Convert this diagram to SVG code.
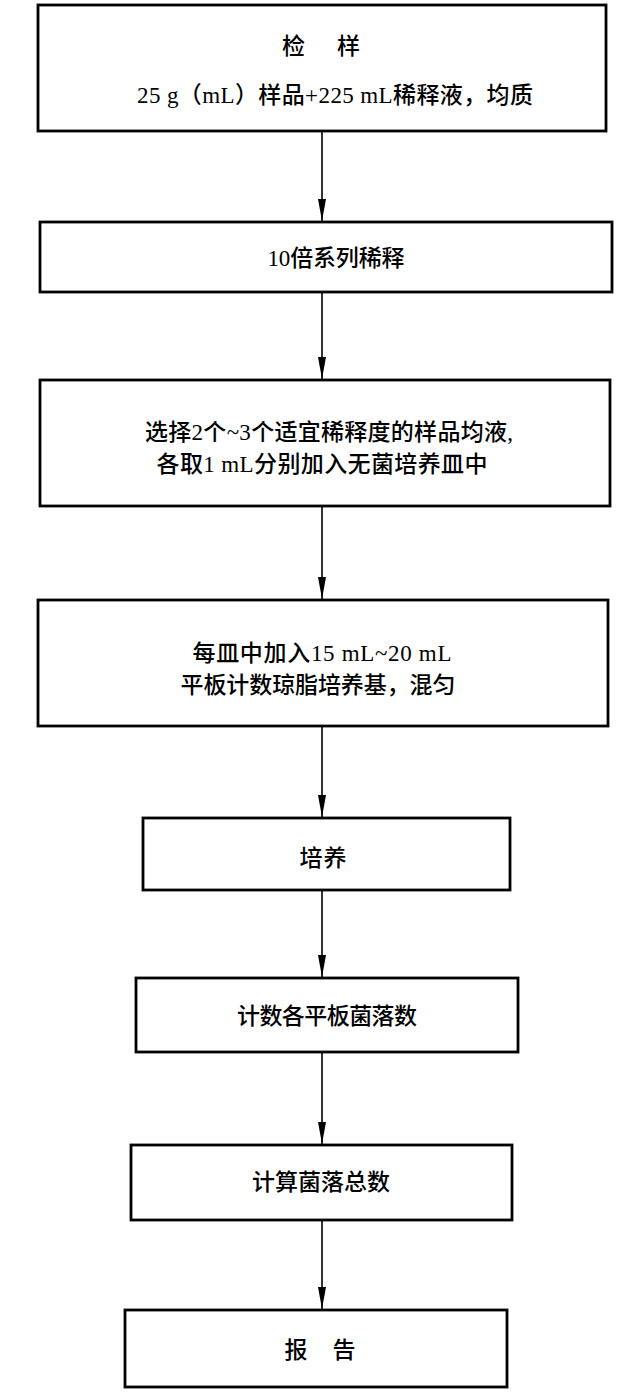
<svg xmlns="http://www.w3.org/2000/svg" width="640" height="1392" viewBox="0 0 640 1392">
<style>
.box{fill:#fff;stroke:#000;stroke-width:2.8}
.t{font-family:"Liberation Serif","Noto Sans CJK SC",serif;font-size:23px;font-weight:500;fill:#000;text-anchor:middle}
.c{stroke:#000;stroke-width:1.6;fill:none;marker-end:url(#ah)}
</style>
<defs>
<marker id="ah" markerUnits="userSpaceOnUse" markerWidth="22" markerHeight="10" refX="22" refY="5" orient="auto" viewBox="0 0 22 10">
<path d="M0,1 L22,5 L0,9 Z" fill="#000"/>
</marker>
</defs>
<rect width="640" height="1392" fill="#fff"/>
<g id="connectors">
<line class="c" x1="322" y1="132" x2="322" y2="221"/>
<line class="c" x1="322" y1="293" x2="322" y2="379"/>
<line class="c" x1="322" y1="507" x2="322" y2="599"/>
<line class="c" x1="322" y1="727" x2="322" y2="817"/>
<line class="c" x1="322" y1="891" x2="322" y2="977"/>
<line class="c" x1="322" y1="1053" x2="322" y2="1144"/>
<line class="c" x1="322" y1="1221" x2="322" y2="1309"/>
</g>
<g id="n1">
<rect class="box" x="38" y="5" width="568" height="126"/>
<text class="t" x="321" y="54" textLength="78" lengthAdjust="spacing">检　样</text>
<text class="t" x="335" y="103" textLength="396" lengthAdjust="spacing">25 g（mL）样品+225 mL稀释液，均质</text>
</g>
<g id="n2">
<rect class="box" x="40" y="222" width="572" height="70"/>
<text class="t" x="336" y="266" textLength="137" lengthAdjust="spacing">10倍系列稀释</text>
</g>
<g id="n3">
<rect class="box" x="40" y="380" width="570" height="126"/>
<text class="t" x="329" y="440" textLength="368" lengthAdjust="spacing">选择2个~3个适宜稀释度的样品均液,</text>
<text class="t" x="322" y="472" textLength="331" lengthAdjust="spacing">各取1 mL分别加入无菌培养皿中</text>
</g>
<g id="n4">
<rect class="box" x="38" y="600" width="570" height="126"/>
<text class="t" x="322" y="661" textLength="259" lengthAdjust="spacing">每皿中加入15 mL~20 mL</text>
<text class="t" x="318" y="693" textLength="275" lengthAdjust="spacing">平板计数琼脂培养基，混匀</text>
</g>
<g id="n5">
<rect class="box" x="143" y="818" width="367" height="72"/>
<text class="t" x="323" y="866" textLength="47" lengthAdjust="spacing">培养</text>
</g>
<g id="n6">
<rect class="box" x="136" y="978" width="382" height="74"/>
<text class="t" x="327" y="1024" textLength="180" lengthAdjust="spacing">计数各平板菌落数</text>
</g>
<g id="n7">
<rect class="box" x="131" y="1145" width="381" height="75"/>
<text class="t" x="321" y="1190" textLength="138" lengthAdjust="spacing">计算菌落总数</text>
</g>
<g id="n8">
<rect class="box" x="125" y="1310" width="382" height="77"/>
<text class="t" x="320" y="1358" textLength="71" lengthAdjust="spacing">报　告</text>
</g>
</svg>
